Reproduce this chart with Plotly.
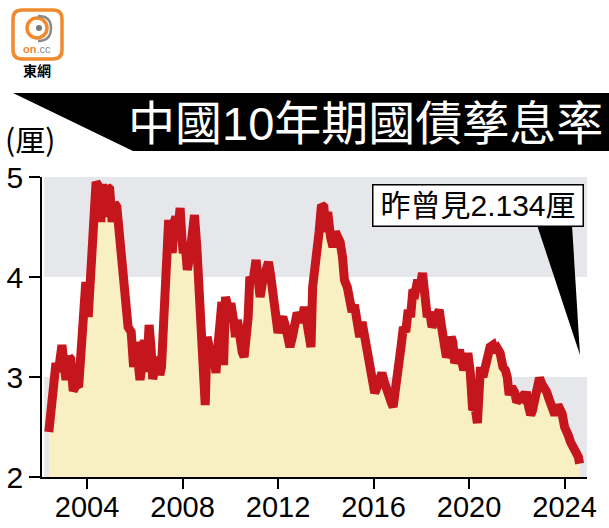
import plotly.graph_objects as go

# ---------------- data ----------------
years = [
    2002.40, 2002.55, 2002.70, 2002.80, 2002.95, 2003.05, 2003.12, 2003.25, 2003.32, 2003.42,
    2003.55, 2003.65, 2003.75, 2003.85, 2003.95, 2004.05, 2004.12, 2004.22, 2004.30, 2004.38,
    2004.50, 2004.58, 2004.65, 2004.75, 2004.85, 2004.95, 2005.05, 2005.15, 2005.25, 2005.35,
    2005.45, 2005.55, 2005.65, 2005.72, 2005.85, 2005.95, 2006.05, 2006.15, 2006.22, 2006.32,
    2006.40, 2006.50, 2006.60, 2006.68, 2006.75, 2006.85, 2006.95, 2007.05, 2007.12, 2007.22,
    2007.28, 2007.35, 2007.42, 2007.50, 2007.57, 2007.65, 2007.72, 2007.82, 2007.90, 2007.97,
    2008.03, 2008.12, 2008.20, 2008.30, 2008.40, 2008.50, 2008.60, 2008.68, 2008.75, 2008.82,
    2008.88, 2008.95, 2009.03, 2009.12, 2009.20, 2009.30, 2009.40, 2009.48, 2009.55, 2009.65,
    2009.72, 2009.80, 2009.90, 2010.05, 2010.15, 2010.22, 2010.30, 2010.40, 2010.50, 2010.58,
    2010.68, 2010.75, 2010.82, 2010.95, 2011.08, 2011.18, 2011.25, 2011.35, 2011.50, 2011.60,
    2011.70, 2011.80, 2011.90, 2012.00, 2012.10, 2012.20, 2012.32, 2012.42, 2012.50, 2012.60,
    2012.70, 2012.80, 2012.90, 2013.00, 2013.10, 2013.20, 2013.30, 2013.38, 2013.45, 2013.55,
    2013.62, 2013.72, 2013.82, 2013.92, 2014.00, 2014.08, 2014.20, 2014.30, 2014.40, 2014.50,
    2014.60, 2014.70, 2014.78, 2014.90, 2015.00, 2015.10, 2015.20, 2015.30, 2015.42, 2015.52,
    2015.62, 2015.72, 2015.80, 2015.88, 2015.95, 2016.05, 2016.15, 2016.25, 2016.35, 2016.45,
    2016.55, 2016.65, 2016.75, 2016.82, 2016.90, 2016.98, 2017.05, 2017.15, 2017.25, 2017.35,
    2017.45, 2017.55, 2017.65, 2017.75, 2017.85, 2017.95, 2018.05, 2018.15, 2018.25, 2018.35,
    2018.45, 2018.55, 2018.65, 2018.75, 2018.85, 2018.95, 2019.05, 2019.15, 2019.25, 2019.32,
    2019.40, 2019.50, 2019.60, 2019.70, 2019.78, 2019.88, 2019.95, 2020.05, 2020.15, 2020.25,
    2020.35, 2020.42, 2020.48, 2020.58, 2020.68, 2020.78, 2020.88, 2021.00, 2021.10, 2021.20,
    2021.30, 2021.42, 2021.52, 2021.60, 2021.68, 2021.78, 2021.90, 2022.00, 2022.10, 2022.20,
    2022.30, 2022.40, 2022.50, 2022.58, 2022.65, 2022.75, 2022.85, 2022.95, 2023.05, 2023.15,
    2023.25, 2023.35, 2023.45, 2023.55, 2023.65, 2023.72, 2023.80, 2023.90, 2024.00, 2024.08,
    2024.15, 2024.25, 2024.35, 2024.45, 2024.52, 2024.58, 2024.63,
]
yields = [
    2.45, 2.80, 3.14, 3.05, 3.32, 3.10, 2.97, 3.20, 3.18, 2.86,
    2.92, 2.90, 3.40, 3.88, 3.95, 3.60, 3.95, 4.30, 4.38, 4.95,
    4.90, 4.55, 4.93, 4.60, 4.90, 4.88, 4.55, 4.74, 4.70, 4.40,
    4.22, 3.95, 3.75, 3.50, 3.45, 3.10, 3.35, 3.00, 2.97, 3.15,
    3.37, 3.05, 3.52, 3.30, 2.98, 3.10, 3.20, 3.02, 3.10, 3.60,
    3.97, 4.40, 4.57, 4.40, 4.24, 4.55, 4.60, 4.50, 4.69, 4.40,
    4.24, 4.30, 4.07, 4.20, 4.55, 4.62, 4.30, 3.94, 3.50, 3.07,
    3.10, 2.72, 3.40, 3.30, 3.20, 3.25, 3.04, 3.30, 3.64, 3.75,
    3.12, 3.80, 3.70, 3.70, 3.55, 3.40, 3.57, 3.35, 3.25, 3.20,
    3.44, 3.60, 4.00, 3.95, 4.17, 3.95, 3.80, 3.95, 4.05, 4.15,
    4.00, 3.80, 3.55, 3.44, 3.55, 3.60, 3.50, 3.40, 3.30, 3.40,
    3.50, 3.64, 3.60, 3.55, 3.70, 3.55, 3.40, 3.30, 3.90, 4.07,
    4.14, 4.45, 4.72, 4.70, 4.45, 4.65, 4.40, 4.30, 4.45, 4.40,
    4.35, 4.20, 3.97, 3.90, 3.77, 3.65, 3.72, 3.60, 3.40, 3.55,
    3.40, 3.30, 3.20, 3.10, 3.00, 2.84, 2.90, 2.95, 3.04, 2.95,
    2.85, 2.80, 2.74, 2.70, 2.90, 3.05, 3.20, 3.30, 3.50, 3.45,
    3.67, 3.60, 3.87, 3.85, 3.97, 3.90, 4.04, 3.80, 3.60, 3.65,
    3.50, 3.55, 3.60, 3.67, 3.50, 3.30, 3.20, 3.25, 3.40, 3.35,
    3.14, 3.20, 3.27, 3.15, 3.07, 3.15, 3.24, 3.05, 2.67, 2.70,
    2.54, 2.85, 3.10, 3.00, 3.10, 3.24, 3.30, 3.32, 3.25, 3.28,
    3.24, 3.10, 3.07, 3.00, 2.82, 2.90, 2.85, 2.75, 2.80, 2.80,
    2.78, 2.85, 2.70, 2.62, 2.66, 2.80, 2.92, 2.99, 2.93, 2.90,
    2.85, 2.78, 2.70, 2.65, 2.65, 2.72, 2.68, 2.63, 2.50, 2.47,
    2.42, 2.35, 2.30, 2.27, 2.25, 2.20, 2.134,
]
x_ticks = [2004, 2008, 2012, 2016, 2020, 2024]
x_tick_labels = ["2004", "2008", "2012", "2016", "2020", "2024"]
y_ticks = [2, 3, 4, 5]
y_tick_labels = ["2", "3", "4", "5"]
title_text = "中國10年期國債孳息率"
unit_text = "(厘)"
callout_text = "昨曾見2.134厘"

# ---------------- layout helpers ----------------
W, H = 609, 528
L, R, T, B = 42, 22, 177, 51
PW, PH = W - L - R, H - T - B


def xp(px):
    return (px - L) / PW


def yp(py):
    return (H - B - py) / PH


def P(px, py):
    return f"{xp(px):.5f},{yp(py):.5f}"


FONT = "Liberation Sans, Arial, Noto Sans CJK TC, sans-serif"
ORANGE = "#ef8a2e"

fig = go.Figure()
fig.add_trace(go.Scatter(
    x=years, y=yields, mode="lines",
    line=dict(color="#c4161c", width=9, shape="linear"),
    fill="tozeroy", fillcolor="#f8f0c3",
    hoverinfo="skip", showlegend=False,
))

shapes = []
# background bands
for y0, y1 in [(4, 5), (2, 3)]:
    shapes.append(dict(type="rect", xref="paper", yref="y", x0=0.004, x1=1, y0=y0, y1=y1,
                       fillcolor="#e6e7ea", line=dict(width=0), layer="below"))
# title banner
shapes.append(dict(type="path", xref="paper", yref="paper",
                   path=f"M{P(13,93)} L{P(609,93)} L{P(609,151)} L{P(133,151)} Z",
                   fillcolor="black", line=dict(width=0), layer="above"))
# callout pointer
shapes.append(dict(type="path", xref="paper", yref="paper",
                   path=f"M{P(537,225)} L{P(572,225)} L{P(580,355)} Z",
                   fillcolor="black", line=dict(width=0), layer="above"))
# logo rounded square
r = 9
x0, y0, x1, y1 = 13, 10, 62, 59
logo_path = (f"M{P(x0+r,y0)} L{P(x1-r,y0)} Q{P(x1,y0)} {P(x1,y0+r)} L{P(x1,y1-r)} "
             f"Q{P(x1,y1)} {P(x1-r,y1)} L{P(x0+r,y1)} Q{P(x0,y1)} {P(x0,y1-r)} "
             f"L{P(x0,y0+r)} Q{P(x0,y0)} {P(x0+r,y0)} Z")
shapes.append(dict(type="path", xref="paper", yref="paper", path=logo_path,
                   fillcolor="white", line=dict(color=ORANGE, width=3.5), layer="above"))
# logo ring
shapes.append(dict(type="circle", xref="paper", yref="paper",
                   x0=xp(27), x1=xp(47), y0=yp(38), y1=yp(18),
                   line=dict(color=ORANGE, width=3.5), layer="above"))
shapes.append(dict(type="path", xref="paper", yref="paper",
                   path=f"M{P(38,16)} Q{P(51,16)} {P(51,28)} Q{P(51,41)} {P(38,41)}",
                   line=dict(color="#8a8a8a", width=2.5), layer="above"))
shapes.append(dict(type="circle", xref="paper", yref="paper",
                   x0=xp(36), x1=xp(42), y0=yp(31), y1=yp(25),
                   fillcolor="#7a7a7a", line=dict(width=0), layer="above"))

annotations = [
    dict(text=title_text, xref="paper", yref="paper", x=xp(126), y=yp(123),
         xanchor="left", yanchor="middle", showarrow=False,
         font=dict(family=FONT, size=47, color="white")),
    dict(text=unit_text, xref="paper", yref="paper", x=xp(3), y=yp(138),
         xanchor="left", yanchor="middle", showarrow=False,
         font=dict(family="Noto Sans CJK TC, sans-serif", size=30, color="black")),
    dict(text=callout_text, xref="paper", yref="paper", x=xp(477.5), y=yp(205),
         xanchor="center", yanchor="middle", showarrow=False,
         width=205, height=36, align="center",
         bgcolor="white", bordercolor="black", borderwidth=1.5, borderpad=2,
         font=dict(family=FONT, size=30, color="black")),
    dict(text='<b>on</b><span style="color:#8a8a8a">.cc</span>', xref="paper", yref="paper",
         x=xp(37), y=yp(49), xanchor="center", yanchor="middle", showarrow=False,
         font=dict(family="Liberation Sans, Arial", size=11, color=ORANGE)),
    dict(text="<b>東網</b>", xref="paper", yref="paper", x=xp(37), y=yp(70),
         xanchor="center", yanchor="middle", showarrow=False,
         font=dict(family="Noto Sans CJK TC, sans-serif", size=14, color="black")),
]

fig.update_layout(
    width=W, height=H, autosize=False,
    margin=dict(l=L, r=R, t=T, b=B, pad=0, autoexpand=False),
    paper_bgcolor="white", plot_bgcolor="white",
    shapes=shapes, annotations=annotations, showlegend=False,
    xaxis=dict(range=[2002.115, 2024.94], tickmode="array", tickvals=x_ticks,
               ticktext=x_tick_labels, ticks="outside", ticklen=10, tickwidth=1.5,
               tickcolor="black", showline=True, linecolor="black", linewidth=1.5,
               showgrid=False, zeroline=False, automargin=False,
               ticklabelstandoff=-7,
               tickfont=dict(family=FONT, size=29, color="black")),
    yaxis=dict(range=[2, 5], tickmode="array", tickvals=y_ticks, ticktext=y_tick_labels,
               ticks="outside", ticklen=11, tickwidth=1.5, tickcolor="black",
               showline=True, linecolor="black", linewidth=1.5,
               showgrid=False, zeroline=False, automargin=False,
               tickfont=dict(family=FONT, size=30, color="black")),
)

fig.write_html("out.html")
